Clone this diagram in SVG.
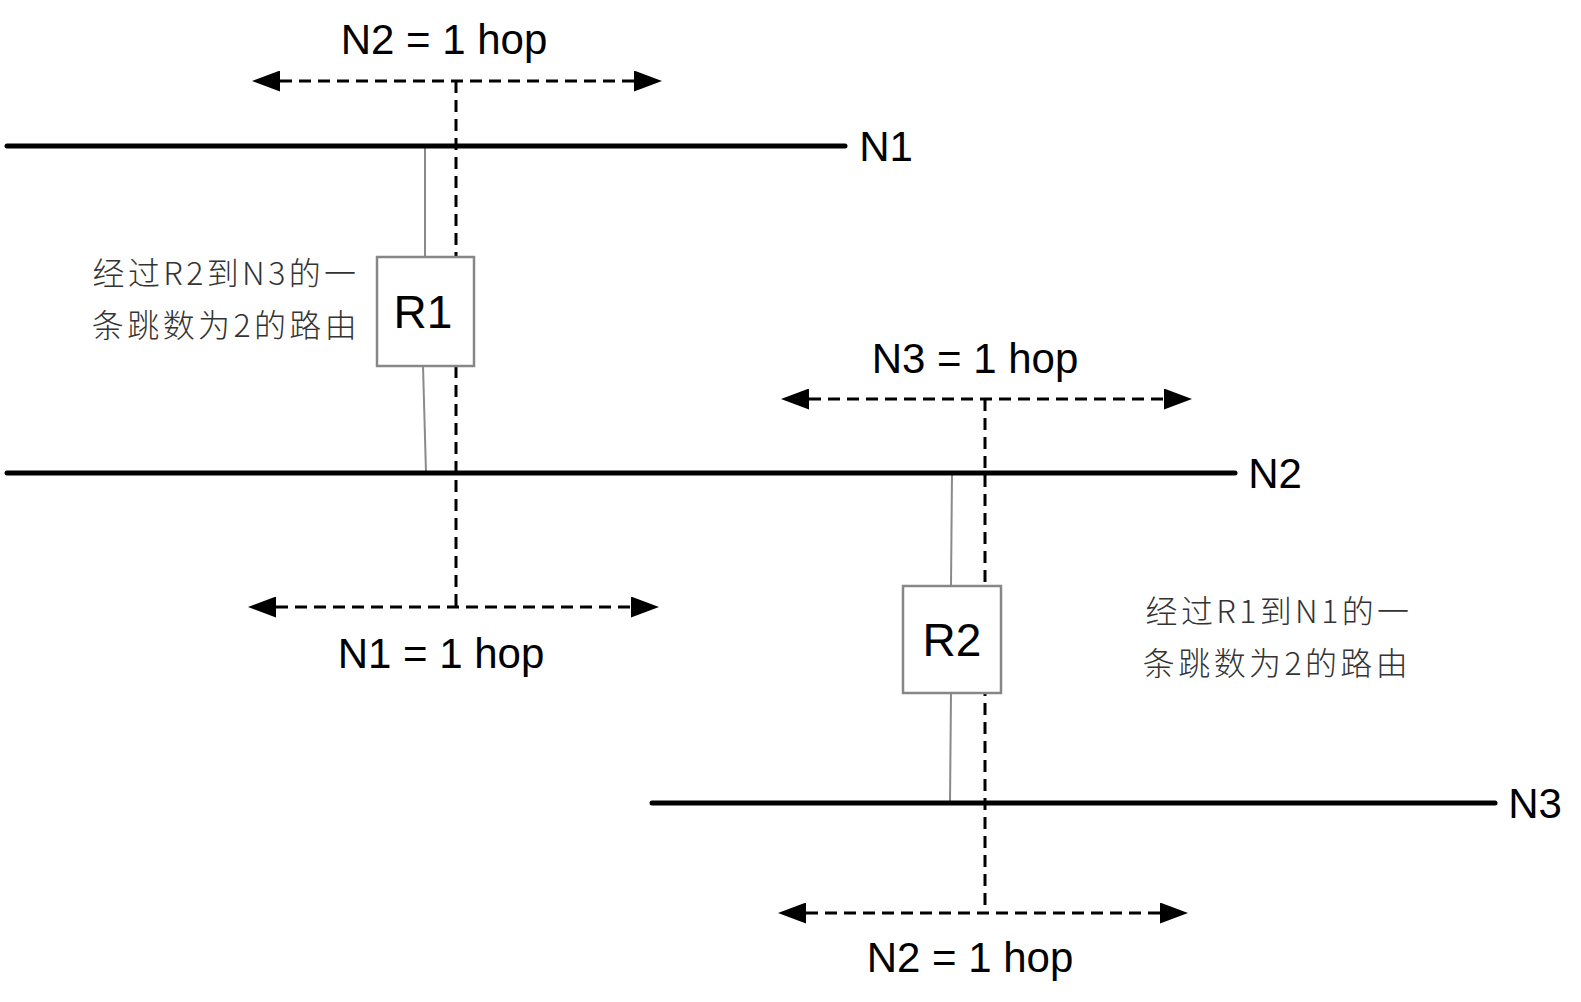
<svg xmlns="http://www.w3.org/2000/svg" width="1581" height="1002" viewBox="0 0 1581 1002">
<style>
.net{stroke:#000;stroke-width:5;stroke-linecap:round;fill:none}
.link{stroke:#8a8a8a;stroke-width:2;fill:none}
.box{fill:#fff;stroke:#878787;stroke-width:2.5}
.dash{stroke:#000;stroke-width:3;stroke-dasharray:12 7;fill:none}
.lbl{font-family:"Liberation Sans",Arial,"Noto Sans CJK SC",sans-serif;font-size:42px;fill:#000;text-anchor:middle}
.rt{font-family:"Liberation Sans",Arial,sans-serif;font-size:46px;fill:#000;text-anchor:middle}
.cn{font-family:"Noto Sans CJK SC","Noto Sans CJK JP",sans-serif;font-weight:300;font-size:32px;letter-spacing:3.4px;fill:#333;text-anchor:middle}
</style>
<defs>
<marker id="ah" markerUnits="userSpaceOnUse" markerWidth="28" markerHeight="21" refX="0" refY="10.5" orient="auto-start-reverse" viewBox="0 0 28 21">
<path d="M0,0 L28,10.5 L0,21 Z" fill="#000" stroke="none"/>
</marker>
</defs>
<rect width="1581" height="1002" fill="#fff"/>
<g id="connectors">
<line class="link" x1="425" y1="146" x2="425" y2="257"/>
<line class="link" x1="423" y1="366" x2="426" y2="473"/>
<line class="link" x1="952" y1="473" x2="951" y2="586"/>
<line class="link" x1="951" y1="693" x2="950" y2="803"/>
<line class="dash" x1="456" y1="81" x2="456" y2="607"/>
<line class="dash" x1="985" y1="399" x2="985" y2="913"/>
<line class="dash" x1="280" y1="81" x2="634" y2="81" marker-start="url(#ah)" marker-end="url(#ah)"/>
<line class="dash" x1="276" y1="607" x2="631" y2="607" marker-start="url(#ah)" marker-end="url(#ah)"/>
<line class="dash" x1="809" y1="399" x2="1164" y2="399" marker-start="url(#ah)" marker-end="url(#ah)"/>
<line class="dash" x1="806" y1="913" x2="1160" y2="913" marker-start="url(#ah)" marker-end="url(#ah)"/>
</g>
<g id="N1">
<line class="net" x1="7" y1="146" x2="845" y2="146"/>
<text class="lbl" x="886" y="161">N1</text>
</g>
<g id="N2">
<line class="net" x1="7" y1="473" x2="1235" y2="473"/>
<text class="lbl" x="1275" y="488">N2</text>
</g>
<g id="N3">
<line class="net" x1="652" y1="803" x2="1495" y2="803"/>
<text class="lbl" x="1535" y="818">N3</text>
</g>
<g id="R1">
<rect class="box" x="377" y="257" width="97" height="109"/>
<text class="rt" x="423" y="328">R1</text>
</g>
<g id="R2">
<rect class="box" x="903" y="586" width="98" height="107"/>
<text class="rt" x="952" y="656">R2</text>
</g>
<g id="hop-labels">
<text class="lbl" x="444" y="54">N2 = 1 hop</text>
<text class="lbl" x="441" y="668">N1 = 1 hop</text>
<text class="lbl" x="975" y="373">N3 = 1 hop</text>
<text class="lbl" x="970" y="972">N2 = 1 hop</text>
</g>
<g id="note-R1">
<text class="cn" x="226" y="285">经过R2到N3的一</text>
<text class="cn" x="226" y="337">条跳数为2的路由</text>
</g>
<g id="note-R2">
<text class="cn" x="1279" y="623">经过R1到N1的一</text>
<text class="cn" x="1277" y="675">条跳数为2的路由</text>
</g>
</svg>
